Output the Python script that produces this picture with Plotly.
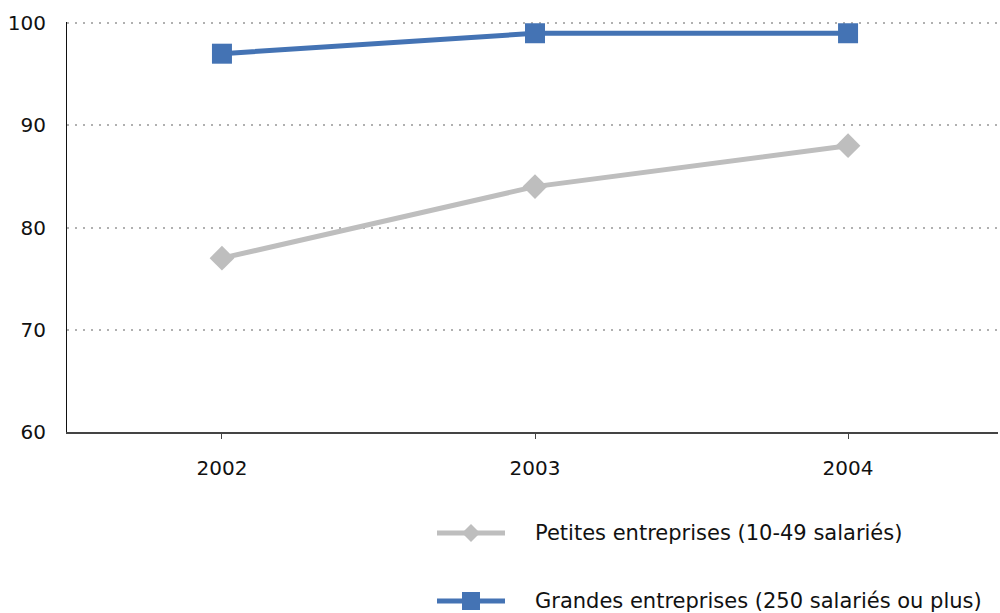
import plotly.graph_objects as go

# Share of enterprises (%) by size class
years = ["2002", "2003", "2004"]
petites = [77, 84, 88]
grandes = [97, 99, 99]
name_petites = "Petites entreprises (10-49 salariés)"
name_grandes = "Grandes entreprises (250 salariés ou plus)"

GREY = "#BEBEBE"
BLUE = "#4473B4"
FONT = "DejaVu Sans, Verdana, sans-serif"

W, H = 1000, 613
ML, MR, MT, MB = 67, 2, 22, 181
PW, PH = W - ML - MR, H - MT - MB


def px_x(px):
    return (px - ML) / PW


def px_y(py):
    return (H - MB - py) / PH


fig = go.Figure()
fig.add_trace(go.Scatter(
    x=years, y=petites, name=name_petites, mode="lines+markers",
    line=dict(color=GREY, width=5),
    marker=dict(symbol="diamond", size=19, color=GREY),
    showlegend=False,
))
fig.add_trace(go.Scatter(
    x=years, y=grandes, name=name_grandes, mode="lines+markers",
    line=dict(color=BLUE, width=5),
    marker=dict(symbol="square", size=20, color=BLUE),
    showlegend=False,
))

# Legend drawn as shapes + text below the plot
shapes = []
annotations = []
legend_rows = [(533, GREY, "diamond", name_petites), (601, BLUE, "square", name_grandes)]
for cy, col, sym, label in legend_rows:
    shapes.append(dict(type="line", xref="paper", yref="paper",
                       x0=px_x(437), x1=px_x(505), y0=px_y(cy), y1=px_y(cy),
                       line=dict(color=col, width=5)))
    cx = 471
    r = 9
    if sym == "diamond":
        path = (f"M{px_x(cx - r)},{px_y(cy)} L{px_x(cx)},{px_y(cy - r)} "
                f"L{px_x(cx + r)},{px_y(cy)} L{px_x(cx)},{px_y(cy + r)} Z")
        shapes.append(dict(type="path", xref="paper", yref="paper", path=path,
                           fillcolor=col, line=dict(width=0)))
    else:
        shapes.append(dict(type="rect", xref="paper", yref="paper",
                           x0=px_x(cx - r), x1=px_x(cx + r),
                           y0=px_y(cy - r), y1=px_y(cy + r),
                           fillcolor=col, line=dict(width=0)))
    annotations.append(dict(xref="paper", yref="paper", x=px_x(533), y=px_y(cy),
                            xanchor="left", yanchor="middle", showarrow=False,
                            text=label, font=dict(family=FONT, size=21, color="#111")))

fig.update_layout(
    width=W, height=H,
    margin=dict(l=ML, r=MR, t=MT, b=MB),
    paper_bgcolor="white", plot_bgcolor="white",
    font=dict(family=FONT, size=20, color="#111"),
    shapes=shapes, annotations=annotations,
    xaxis=dict(
        type="category", range=[-0.495, 2.479],
        showgrid=False, showline=True, linecolor="#444", linewidth=1.5,
        ticks="outside", ticklen=5, tickcolor="#444",
        ticklabelstandoff=12,
    ),
    yaxis=dict(
        range=[60, 100.1], tickvals=[60, 70, 80, 90, 100],
        showgrid=True, gridcolor="#B0B0B0", griddash="2px,6px", gridwidth=1.5,
        showline=True, linecolor="#111", linewidth=1,
        ticks="", ticklabelstandoff=16, zeroline=False,
    ),
)

fig.write_html("out.html")
